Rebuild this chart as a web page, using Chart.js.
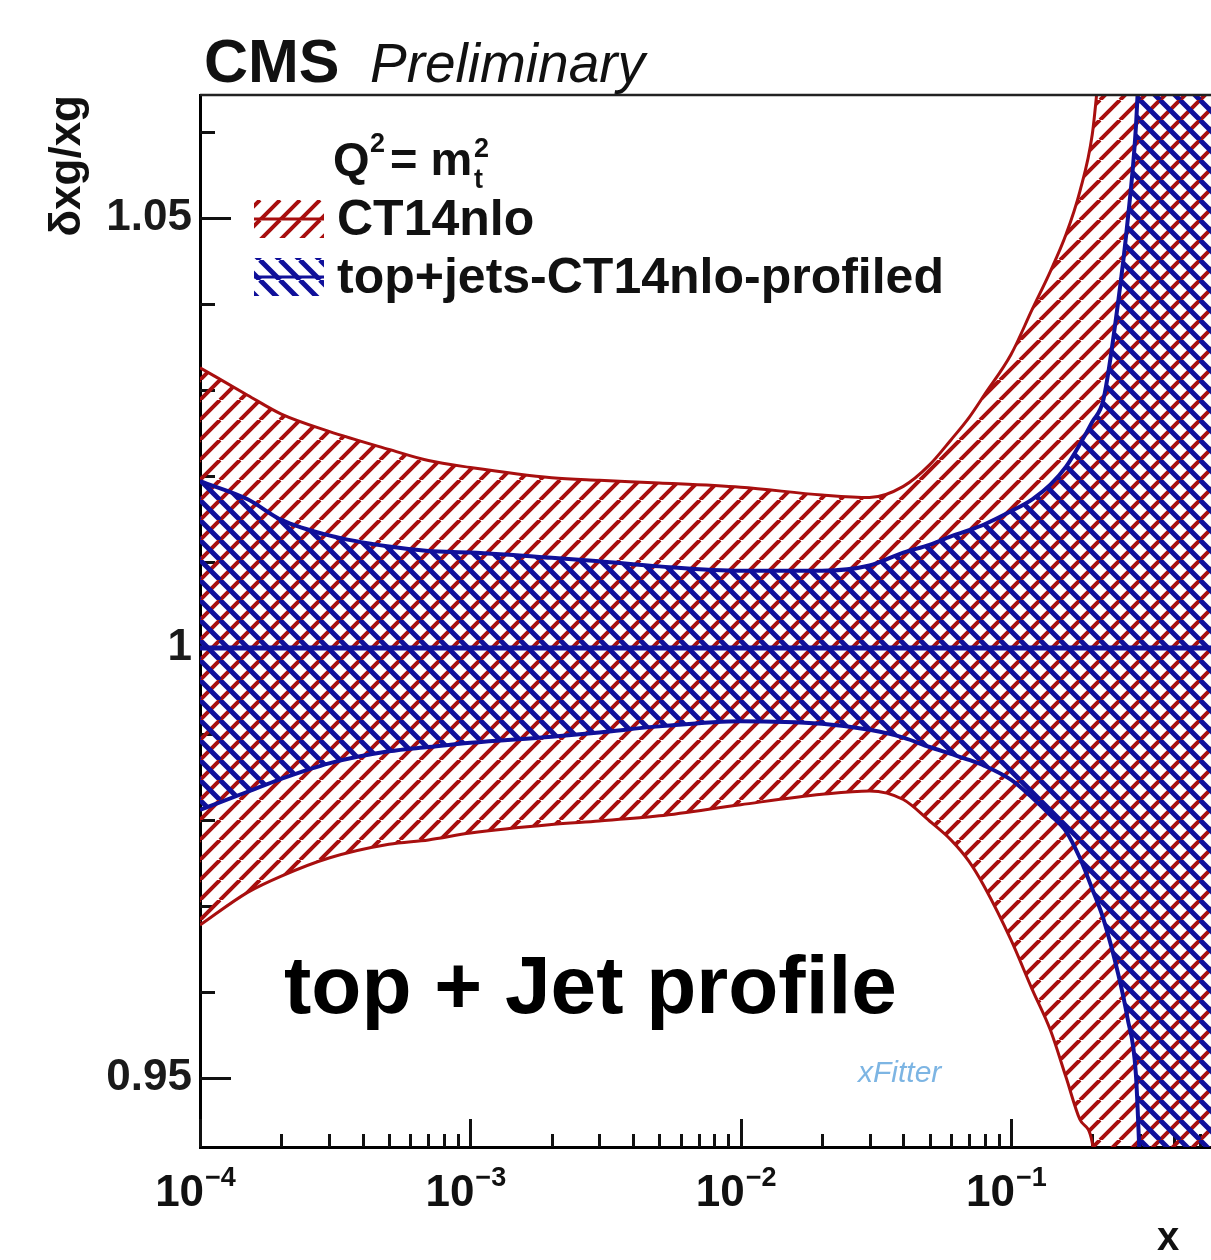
<!DOCTYPE html>
<html>
<head>
<meta charset="utf-8">
<title>δxg/xg – top + Jet profile</title>
<script src="https://cdn.jsdelivr.net/npm/chart.js@4.4.1/dist/chart.umd.min.js"></script>
<style>
  html, body { margin: 0; padding: 0; background: #fff; }
  canvas { display: block; }
</style>
</head>
<body>
<canvas id="gluon-ratio" width="1211" height="1260"></canvas>
<script>
// x nodes shared by both uncertainty bands
const xGrid = [1e-4, 1.5e-4, 2e-4, 3e-4, 5e-4, 7e-4, 1e-3, 2e-3, 3e-3, 5e-3,
  1e-2, 2e-2, 3e-2, 4e-2, 5e-2, 6e-2, 7e-2, 8e-2, 0.1, 0.12, 0.14, 0.16,
  0.18, 0.2, 0.22, 0.25, 0.27, 0.29, 0.31, 0.35, 0.4, 0.5, 0.55];

// CT14nlo band (upper / lower edge of δxg/xg)
const ct14Up = [1.0326, 1.0294, 1.0272, 1.0252, 1.0231, 1.0218, 1.0210, 1.0198, 1.0195, 1.0192,
  1.0187, 1.0178, 1.0175, 1.0188, 1.0213, 1.0242, 1.0268, 1.0295, 1.0341, 1.0394, 1.0438, 1.0481,
  1.0531, 1.0597, 1.0720, 1.080, 1.085, 1.090, 1.095, 1.100, 1.105, 1.110, 1.115];
const ct14Lo = [0.9678, 0.9716, 0.9735, 0.9756, 0.9772, 0.9777, 0.9785, 0.9795, 0.9799, 0.9805,
  0.9818, 0.9830, 0.9834, 0.9824, 0.9799, 0.9777, 0.9752, 0.9722, 0.9661, 0.9603, 0.9556, 0.9501,
  0.9452, 0.9425, 0.930, 0.920, 0.915, 0.910, 0.905, 0.900, 0.895, 0.890, 0.885];

// top+jets-CT14nlo-profiled band
const profUp = [1.0194, 1.0173, 1.0149, 1.0131, 1.0118, 1.0113, 1.0111, 1.0105, 1.0101, 1.0095,
  1.0090, 1.0090, 1.0096, 1.0111, 1.0120, 1.0130, 1.0137, 1.0144, 1.0159, 1.0173, 1.0190, 1.0211,
  1.0237, 1.0263, 1.0289, 1.0405, 1.0495, 1.0605, 1.080, 1.100, 1.110, 1.120, 1.125];
const profLo = [0.9812, 0.9833, 0.9848, 0.9866, 0.9880, 0.9885, 0.9890, 0.9897, 0.9902, 0.9909,
  0.9915, 0.9912, 0.9905, 0.9896, 0.9885, 0.9877, 0.9870, 0.9863, 0.9847, 0.9826, 0.9806, 0.9787,
  0.9756, 0.9720, 0.9685, 0.9620, 0.9570, 0.9505, 0.930, 0.920, 0.910, 0.900, 0.890];

// central value
const centralX = [1e-4, 0.55];
const centralY = [1, 1];

const yTickValues = [0.95, 1, 1.05];
const xDecades = [1e-4, 1e-3, 1e-2, 1e-1];
const xDecadeExp = ['\u22124', '\u22123', '\u22122', '\u22121'];

const RED = '#a80f0f';
const BLUE = '#10109a';
const FONT = '"Liberation Sans", Arial, Helvetica, sans-serif';

const canvas = document.getElementById('gluon-ratio');
const c2d = canvas.getContext('2d');

// ROOT-like hatch: dir 1 = "///", dir -1 = "\\\"
function makeHatch(color, width, dir, size) {
    const tile = document.createElement('canvas');
    tile.width = size;
    tile.height = size;
    const g = tile.getContext('2d');
    g.strokeStyle = color;
    g.lineWidth = width;
    g.beginPath();
    for (let k = -1; k <= 1; k++) {
        if (dir > 0) {
            g.moveTo(k * size, size);
            g.lineTo(k * size + size, 0);
        } else {
            g.moveTo(k * size, 0);
            g.lineTo(k * size + size, size);
        }
    }
    g.stroke();
    return c2d.createPattern(tile, 'repeat');
}

const redHatch = makeHatch(RED, 4, 1, 20);
const blueHatch = makeHatch(BLUE, 5, -1, 20);

const toPoints = (xs, ys) => xs.map((x, i) => ({ x, y: ys[i] }));

const lineDefaults = {
    pointRadius: 0,
    cubicInterpolationMode: 'monotone'
};

// inward ticks, frame and all the annotation text
const hepFrame = {
    id: 'hepFrame',
    beforeDatasetsDraw(chart) {
        const { ctx, chartArea: a, scales: { x, y } } = chart;
        ctx.save();
        ctx.strokeStyle = '#111';
        ctx.lineWidth = 3;
        ctx.beginPath();
        for (let i = 95; i <= 106; i++) {
            const py = Math.round(y.getPixelForValue(i / 100)) + 0.5;
            const len = i % 5 === 0 ? 31 : 15;
            ctx.moveTo(a.left, py);
            ctx.lineTo(a.left + len, py);
        }
        for (let e = -4; e <= -1; e++) {
            for (let k = 1; k <= 9; k++) {
                const v = k * Math.pow(10, e);
                if (v > x.max) break;
                const px = Math.round(x.getPixelForValue(v)) + 0.5;
                const len = k === 1 ? 28 : 13;
                ctx.moveTo(px, a.bottom);
                ctx.lineTo(px, a.bottom - len);
            }
        }
        ctx.stroke();
        ctx.restore();
    },
    afterDraw(chart) {
        const { ctx, chartArea: a, scales: { x } } = chart;
        ctx.save();

        // top edge of the frame
        ctx.strokeStyle = '#222';
        ctx.lineWidth = 2.5;
        ctx.beginPath();
        ctx.moveTo(a.left, a.top);
        ctx.lineTo(a.right, a.top);
        ctx.stroke();

        ctx.fillStyle = '#111';
        ctx.textBaseline = 'alphabetic';

        // x tick labels 10^n
        xDecades.forEach((v, i) => {
            const px = x.getPixelForValue(v);
            ctx.font = `bold 44px ${FONT}`;
            const wBase = ctx.measureText('10').width;
            ctx.font = `bold 27px ${FONT}`;
            const wExp = ctx.measureText(xDecadeExp[i]).width;
            const left = px - (wBase + wExp) / 2 - 5;
            ctx.font = `bold 44px ${FONT}`;
            ctx.textAlign = 'left';
            ctx.fillText('10', left, 1206);
            ctx.font = `bold 27px ${FONT}`;
            ctx.fillText(xDecadeExp[i], left + wBase + 1, 1186);
        });

        // axis titles
        ctx.font = `bold 40px ${FONT}`;
        ctx.textAlign = 'left';
        ctx.fillText('x', 1157, 1250);

        ctx.save();
        ctx.translate(80, 95);
        ctx.rotate(-Math.PI / 2);
        ctx.textAlign = 'right';
        ctx.font = `bold 44px ${FONT}`;
        ctx.fillText('\u03b4xg/xg', 0, 0);
        ctx.restore();

        // experiment label
        ctx.textAlign = 'left';
        ctx.font = `bold 61px ${FONT}`;
        ctx.fillText('CMS', 204, 82);
        ctx.font = `italic 55px ${FONT}`;
        ctx.fillText('Preliminary', 370, 82);

        // legend header Q^2 = m_t^2
        ctx.font = `bold 47px ${FONT}`;
        ctx.fillText('Q', 333, 175);
        ctx.font = `bold 27px ${FONT}`;
        ctx.fillText('2', 370, 152);
        ctx.font = `bold 47px ${FONT}`;
        ctx.fillText('= m', 390, 175);
        ctx.font = `bold 27px ${FONT}`;
        ctx.fillText('t', 474, 188);
        ctx.fillText('2', 474, 157);

        // legend entries
        const entries = [
            { text: 'CT14nlo', y: 200, pattern: redHatch, color: RED },
            { text: 'top+jets-CT14nlo-profiled', y: 258, pattern: blueHatch, color: BLUE }
        ];
        entries.forEach(en => {
            ctx.fillStyle = en.pattern;
            ctx.fillRect(254, en.y, 70, 38);
            ctx.strokeStyle = en.color;
            ctx.lineWidth = 3;
            ctx.beginPath();
            ctx.moveTo(254, en.y + 19);
            ctx.lineTo(324, en.y + 19);
            ctx.stroke();
            ctx.fillStyle = '#111';
            ctx.font = `bold 50px ${FONT}`;
            ctx.fillText(en.text, 337, en.y + 35);
        });

        // big caption
        ctx.fillStyle = '#000';
        ctx.font = `bold 82px ${FONT}`;
        ctx.fillText('top + Jet profile', 284, 1013);

        // xFitter mark
        ctx.fillStyle = 'rgba(70, 150, 215, 0.7)';
        ctx.font = `italic 30px ${FONT}`;
        ctx.fillText('xFitter', 858, 1082);

        ctx.restore();
    }
};

new Chart(canvas, {
    type: 'line',
    data: {
        datasets: [
            {
                label: 'CT14nlo',
                data: toPoints(xGrid, ct14Up),
                borderColor: RED,
                borderWidth: 3,
                backgroundColor: redHatch,
                fill: '+1',
                order: 3,
                ...lineDefaults
            },
            {
                label: 'CT14nlo lower',
                data: toPoints(xGrid, ct14Lo),
                borderColor: RED,
                borderWidth: 3,
                fill: false,
                order: 3,
                ...lineDefaults
            },
            {
                label: 'top+jets-CT14nlo-profiled',
                data: toPoints(xGrid, profUp),
                borderColor: BLUE,
                borderWidth: 4,
                backgroundColor: blueHatch,
                fill: '+1',
                order: 2,
                ...lineDefaults
            },
            {
                label: 'top+jets-CT14nlo-profiled lower',
                data: toPoints(xGrid, profLo),
                borderColor: BLUE,
                borderWidth: 4,
                fill: false,
                order: 2,
                ...lineDefaults
            },
            {
                label: 'central',
                data: toPoints(centralX, centralY),
                borderColor: BLUE,
                borderWidth: 5,
                fill: false,
                order: 1,
                pointRadius: 0
            }
        ]
    },
    options: {
        responsive: false,
        animation: false,
        devicePixelRatio: 1,
        layout: { padding: { top: 95, left: 0, right: 0, bottom: 0 } },
        plugins: {
            legend: { display: false },
            tooltip: { enabled: false },
            filler: { propagate: false }
        },
        scales: {
            x: {
                type: 'logarithmic',
                min: 1e-4,
                max: 0.55,
                grid: { display: false, drawTicks: false },
                border: { color: '#000', width: 3 },
                ticks: { display: false },
                afterFit(scale) { scale.height = 113; }
            },
            y: {
                type: 'linear',
                min: 0.942,
                max: 1.0643,
                grid: { display: false, drawTicks: false },
                border: { color: '#000', width: 3 },
                ticks: {
                    color: '#1a1a1a',
                    padding: 8,
                    font: { family: FONT, weight: 'bold', size: 44 },
                    callback: v => (v === 1 ? '1' : v.toFixed(2))
                },
                afterBuildTicks(scale) {
                    scale.ticks = yTickValues.map(v => ({ value: v }));
                },
                afterFit(scale) { scale.width = 200; }
            }
        }
    },
    plugins: [hepFrame]
});
</script>
</body>
</html>
